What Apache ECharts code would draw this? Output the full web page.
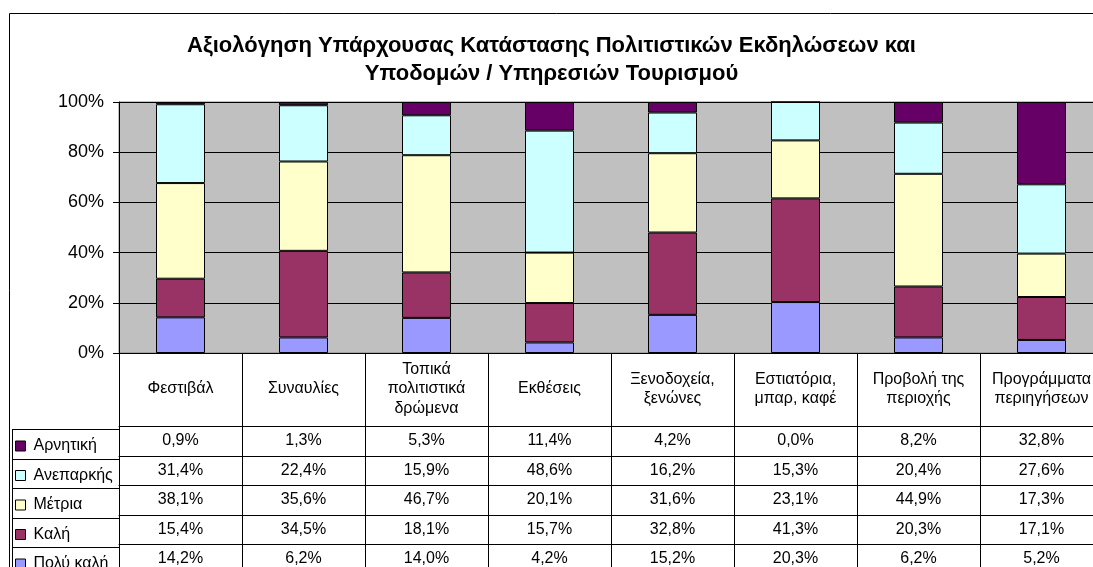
<!DOCTYPE html>
<html>
<head>
<meta charset="utf-8">
<script src="https://cdn.jsdelivr.net/npm/echarts@6/dist/echarts.min.js"></script>
<style>
  html, body { margin: 0; padding: 0; background: #fff; overflow: hidden; }
  /* the chart runs past the right edge of the window, as in the reference */
  #main { width: 1103px; height: 567px; }
</style>
</head>
<body>
<div id="main"></div>
<script>
// categories (table header) and series values, in percent
var categories = ['Φεστιβάλ', 'Συναυλίες', 'Τοπικά\nπολιτιστικά\nδρώμενα', 'Εκθέσεις',
    'Ξενοδοχεία,\nξενώνες', 'Εστιατόρια,\nμπαρ, καφέ', 'Προβολή της\nπεριοχής', 'Προγράμματα\nπεριηγήσεων'];
var arnitiki   = [0.9, 1.3, 5.3, 11.4, 4.2, 0.0, 8.2, 32.8];
var aneparkis  = [31.4, 22.4, 15.9, 48.6, 16.2, 15.3, 20.4, 27.6];
var metria     = [38.1, 35.6, 46.7, 20.1, 31.6, 23.1, 44.9, 17.3];
var kali       = [15.4, 34.5, 18.1, 15.7, 32.8, 41.3, 20.3, 17.1];
var polyKali   = [14.2, 6.2, 14.0, 4.2, 15.2, 20.3, 6.2, 5.2];
var yTicks = [0, 20, 40, 60, 80, 100];

var font = 'Arial, "Liberation Sans", sans-serif';

// rows of the data table, top to bottom
var rows = [
    { name: 'Αρνητική', data: arnitiki, color: '#660066' },
    { name: 'Ανεπαρκής', data: aneparkis, color: '#CCFFFF' },
    { name: 'Μέτρια', data: metria, color: '#FFFFCC' },
    { name: 'Καλή', data: kali, color: '#993366' },
    { name: 'Πολύ καλή', data: polyKali, color: '#9999FF' }
];

var axisBottom = 356;          // y of the 0% line
var headerH = 73;
var rowTops = [429, 459, 488, 518, 547];
var rowH = [30, 29, 30, 29, 30];

function fmt(v) {
    return v.toFixed(1).replace('.', ',') + '%';
}

var myChart = echarts.init(document.getElementById('main'));

var xAxes = [{
    type: 'category',
    data: categories,
    position: 'bottom',
    axisLine: { lineStyle: { color: '#000', width: 1 } },
    axisTick: { show: true, interval: 0, length: headerH, lineStyle: { color: '#000' } },
    axisLabel: {
        interval: 0, margin: 36, verticalAlign: 'middle', color: '#000',
        fontFamily: font, fontSize: 16, lineHeight: 19.5, align: 'center'
    }
}];
rows.forEach(function (r, i) {
    xAxes.push({
        type: 'category',
        data: categories,
        position: 'bottom',
        offset: rowTops[i] - axisBottom,
        axisLine: { lineStyle: { color: '#000', width: 1 } },
        axisTick: { show: true, interval: 0, length: rowH[i], lineStyle: { color: '#000' } },
        axisLabel: {
            interval: 0, margin: rowH[i] / 2, verticalAlign: 'middle', color: '#000',
            fontFamily: font, fontSize: 16,
            formatter: function (v, idx) { return fmt(r.data[idx]); }
        }
    });
});

// stacked bottom-up: Πολύ καλή first
var series = rows.slice().reverse().map(function (r) {
    return {
        name: r.name,
        type: 'bar',
        stack: 'total',
        barWidth: 49,
        data: r.data,
        itemStyle: { color: r.color, borderColor: '#000', borderWidth: 1 }
    };
});

// one legend per row so each key sits in its own table cell
var legends = rows.map(function (r, i) {
    return {
        data: [r.name],
        left: 15,
        top: rowTops[i] + rowH[i] / 2 - 6,
        padding: 0,
        icon: 'rect',
        itemWidth: 10,
        itemHeight: 10,
        itemStyle: { borderColor: '#000', borderWidth: 1 },
        selectedMode: false,
        textStyle: { color: '#000', fontFamily: font, fontSize: 16, padding: [0, 0, 0, 3] }
    };
});

var graphics = [
    { type: 'rect', shape: { x: 9.5, y: 13.5, width: 1120, height: 600 },
      style: { fill: 'none', stroke: '#000', lineWidth: 1 }, z: 100 },
    { type: 'line', shape: { x1: 12.5, y1: rowTops[0], x2: 12.5, y2: 600 },
      style: { stroke: '#000', lineWidth: 1 }, z: 100 }
];
rowTops.forEach(function (t) {
    graphics.push({ type: 'line', shape: { x1: 12, y1: t + 0.5, x2: 119, y2: t + 0.5 },
        style: { stroke: '#000', lineWidth: 1 }, z: 100 });
});

var option = {
    backgroundColor: '#fff',
    animation: false,
    title: {
        text: 'Αξιολόγηση Υπάρχουσας Κατάστασης Πολιτιστικών Εκδηλώσεων και\nΥποδομών / Υπηρεσιών Τουρισμού',
        left: 'center',
        top: 32,
        padding: 0,
        textStyle: { fontFamily: font, fontSize: 22, fontWeight: 'bold', color: '#000', lineHeight: 28, align: 'center' }
    },
    legend: legends,
    grid: {
        left: 119, top: 102, bottom: 567 - axisBottom, right: 0,
        show: true, backgroundColor: '#C0C0C0', borderColor: '#808080', borderWidth: 1,
        containLabel: false
    },
    xAxis: xAxes,
    yAxis: {
        type: 'value',
        min: yTicks[0],
        max: yTicks[yTicks.length - 1],
        interval: 20,
        axisLine: { show: true, lineStyle: { color: '#000' } },
        axisTick: { show: true, length: 6, lineStyle: { color: '#000' } },
        splitLine: { lineStyle: { color: '#000', width: 1 } },
        axisLabel: { formatter: '{value}%', color: '#000', fontFamily: font, fontSize: 18, margin: 15 }
    },
    series: series,
    graphic: graphics
};

myChart.setOption(option);
</script>
</body>
</html>
